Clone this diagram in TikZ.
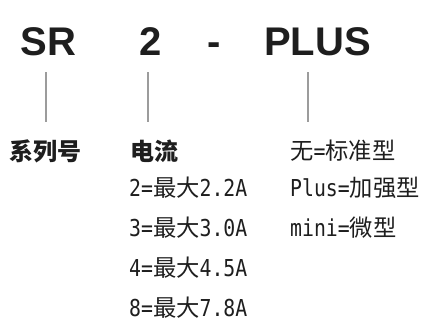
\documentclass[tikz,border=0pt]{standalone}
\usepackage{fontspec}
\setmainfont{Liberation Sans}
\newfontfamily\cjk{Noto Sans CJK SC}
\newfontfamily\halfw[FakeStretch=0.85]{DejaVu Sans Mono}
\newcommand{\hw}[1]{{\halfw #1}}
\usetikzlibrary{positioning}
\definecolor{inkblack}{HTML}{1E1E1E}
\definecolor{tickgray}{HTML}{9C9C9C}
\tikzstyle{code} = [inner sep=0pt, anchor=base, text=inkblack, font=\fontsize{40}{44}\selectfont\bfseries]
\tikzstyle{head} = [inner sep=0pt, anchor=west, text=inkblack, font=\cjk\fontsize{24}{28}\selectfont\bfseries]
\tikzstyle{spec} = [inner sep=0pt, anchor=west, text=inkblack, font=\cjk\fontsize{23.3}{28}\selectfont]
\tikzstyle{tick} = [draw=tickgray, line width=1.3pt]

\begin{document}
\begin{tikzpicture}[x=1pt, y=-1pt]
        \useasboundingbox (0,0) rectangle (433,324);
        % model code
        \node[code] (sr) at (48.4,55) {SR};
        \node[code] (amp) at (151,55) {2};
        \node[code] (dash) at (214,55) {-};
        \node[code] (plus) at (317.5,55) {PLUS};
        % tick lines
        \coordinate (sr top) at (46,72);
        \coordinate (sr bot) at (46,122);
        \coordinate (amp top) at (148,72);
        \coordinate (amp bot) at (148,122);
        \coordinate (plus top) at (308,72);
        \coordinate (plus bot) at (308,122);
        \draw[tick] (sr top) -- (sr bot);
        \draw[tick] (amp top) -- (amp bot);
        \draw[tick] (plus top) -- (plus bot);
        % labels
        \node[head] (series) at (9,151) {系列号};
        \node[head] (current) at (130,151) {电流};
        \node[spec] (c2) at (129,188) {\hw{2=}最大\hw{2.2A}};
        \node[spec] (c3) at ([yshift=-40pt]c2.west) {\hw{3=}最大\hw{3.0A}};
        \node[spec] (c4) at ([yshift=-40pt]c3.west) {\hw{4=}最大\hw{4.5A}};
        \node[spec] (c8) at ([yshift=-40pt]c4.west) {\hw{8=}最大\hw{7.8A}};
        \node[spec] (std) at (290,151) {无\hw{=}标准型};
        \node[spec] (plusv) at (290,188) {\hw{Plus=}加强型};
        \node[spec] (mini) at (290,228) {\hw{mini=}微型};
    \end{tikzpicture}
\end{document}
